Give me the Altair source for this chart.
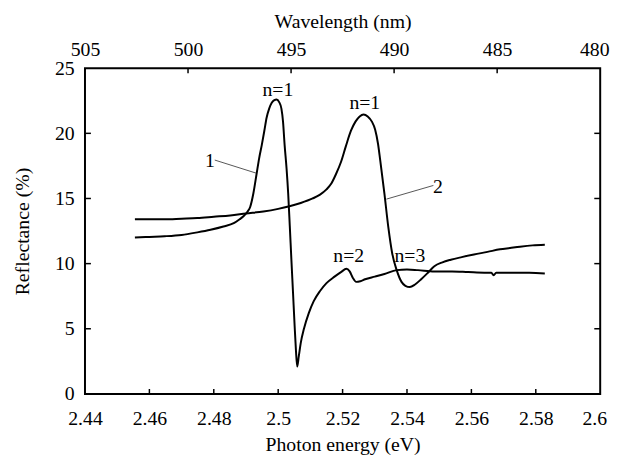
import altair as alt
import pandas as pd

# ---- data ----
energy1 = [2.4555, 2.4600, 2.4647, 2.4700, 2.4749, 2.4790, 2.4830, 2.4862, 2.4880, 2.4893,
           2.4905, 2.4913, 2.4923, 2.4933, 2.4941, 2.4949, 2.4957, 2.4964, 2.4972, 2.4980,
           2.4988, 2.4995, 2.5003, 2.5010, 2.5015, 2.5020, 2.5026, 2.5031, 2.5036, 2.5041,
           2.5046, 2.5051, 2.5055, 2.5059, 2.5064, 2.5070, 2.5080, 2.5095, 2.5110, 2.5130,
           2.5150, 2.5175, 2.5195, 2.5212, 2.5222, 2.5232, 2.5242, 2.5255, 2.5270, 2.5300,
           2.5330, 2.5368, 2.5400, 2.5434, 2.5485, 2.5540, 2.5590, 2.5640, 2.5662, 2.5669,
           2.5677, 2.5720, 2.5780, 2.5828]
refl1 = [12.0, 12.05, 12.1, 12.2, 12.4, 12.6, 12.85, 13.1, 13.4, 13.65,
         14.0, 14.35, 15.4, 16.9, 18.1, 19.1, 20.2, 21.2, 21.9, 22.35,
         22.55, 22.6, 22.4, 21.9, 20.9, 19.1, 17.3, 15.4, 12.9, 10.3,
         7.8, 5.25, 3.4, 2.1, 2.9, 3.9, 5.0, 6.2, 7.1, 7.9,
         8.5, 9.0, 9.35, 9.6, 9.4, 8.9, 8.6, 8.65, 8.8, 9.0,
         9.2, 9.5, 9.55, 9.5, 9.4, 9.4, 9.35, 9.3, 9.3, 9.1,
         9.3, 9.3, 9.3, 9.25]

energy2 = [2.4555, 2.4600, 2.4647, 2.4700, 2.4749, 2.4800, 2.4851, 2.4900, 2.4954, 2.5000,
           2.5035, 2.5070, 2.5107, 2.5130, 2.5150, 2.5165, 2.5180, 2.5195, 2.5210, 2.5226,
           2.5240, 2.5253, 2.5265, 2.5278, 2.5291, 2.5301, 2.5310, 2.5317, 2.5330, 2.5342,
           2.5354, 2.5368, 2.5383, 2.5395, 2.5409, 2.5425, 2.5444, 2.5465, 2.5485, 2.5510,
           2.5536, 2.5570, 2.5608, 2.5650, 2.5689, 2.5720, 2.5751, 2.5790, 2.5828]
refl2 = [13.4, 13.4, 13.4, 13.45, 13.5, 13.6, 13.7, 13.85, 14.0, 14.2,
         14.4, 14.65, 15.0, 15.3, 15.7, 16.15, 16.9, 17.8, 19.0, 20.2,
         20.9, 21.3, 21.45, 21.3, 20.9, 20.3, 19.2, 17.9, 15.35, 12.8,
         10.8, 9.5, 8.6, 8.3, 8.2, 8.4, 8.8, 9.3, 9.8, 10.1,
         10.3, 10.5, 10.7, 10.9, 11.1, 11.2, 11.3, 11.4, 11.45]

energy_ticks = [2.44, 2.46, 2.48, 2.5, 2.52, 2.54, 2.56, 2.58, 2.6]
wl_ticks = [505, 500, 495, 490, 485, 480]
refl_ticks = [0, 5, 10, 15, 20, 25]

label_text = ["n=1", "n=1", "n=2", "n=3", "1", "2"]
label_e = [2.4999, 2.5269, 2.5219, 2.5409, 2.4788, 2.5496]
label_r = [23.3, 22.3, 10.55, 10.55, 17.9, 15.85]

leader_e = [2.4803, 2.5336]
leader_r = [17.95, 14.95]
leader_e2 = [2.4931, 2.5482]
leader_r2 = [16.95, 16.0]

# ---- chart ----
W, H = 522, 330
FONT = "Liberation Serif"
FS = 20

curves = pd.concat([
    pd.DataFrame({"E": energy1, "R": refl1, "series": "1"}),
    pd.DataFrame({"E": energy2, "R": refl2, "series": "2"}),
])
labels = pd.DataFrame({"E": label_e, "R": label_r, "text": label_text})
leaders = pd.DataFrame({"E": leader_e, "R": leader_r, "E2": leader_e2, "R2": leader_r2})

xs = alt.Scale(domain=[2.44, 2.6], nice=False, zero=False)
ys = alt.Scale(domain=[0, 25], nice=False, zero=False)

x_axis = alt.Axis(values=energy_ticks, format=".2~f", title="Photon energy (eV)",
                  labelPadding=15, titlePadding=6, labelFlush=False,
                  labelOffset={"condition": {"test": "datum.value >= 2.59", "value": -6},
                               "value": 0})
y_axis = alt.Axis(values=refl_ticks, title="Reflectance (%)",
                  labelPadding=11, titlePadding=22)

X = alt.X("E:Q", scale=xs, axis=x_axis)
Y = alt.Y("R:Q", scale=ys, axis=y_axis)

lines = alt.Chart(curves).mark_line(
    color="black", strokeWidth=2, interpolate="monotone", strokeJoin="round"
).encode(x=X, y=Y, detail="series:N")

lead = alt.Chart(leaders).mark_rule(color="#555555", strokeWidth=1).encode(
    x=X, y=Y, x2="E2:Q", y2="R2:Q")

texts = alt.Chart(labels).mark_text(
    font=FONT, fontSize=FS, color="black", baseline="middle", align="center"
).encode(x=X, y=Y, text="text:N")

bt = alt.Chart(pd.DataFrame({"E": energy_ticks[1:-1]})).mark_rule(
    color="black", strokeWidth=1.5).encode(x=X, y=alt.value(H), y2=alt.value(H - 5))

lt = alt.Chart(pd.DataFrame({"R": refl_ticks[1:-1]})).mark_rule(
    color="black", strokeWidth=1.5).encode(y=Y, x=alt.value(0), x2=alt.value(6))
rt = alt.Chart(pd.DataFrame({"R": refl_ticks[1:-1]})).mark_rule(
    color="black", strokeWidth=1.5).encode(y=Y, x=alt.value(W), x2=alt.value(W - 6))

main = alt.layer(lines, lead, texts, bt, lt, rt)

top = alt.Chart(pd.DataFrame({"wl": wl_ticks[1:-1]})).mark_rule(
    color="black", strokeWidth=1.5).encode(
    x=alt.X("wl:Q",
            scale=alt.Scale(domain=[480, 505], reverse=True, nice=False, zero=False),
            axis=alt.Axis(orient="top", values=wl_ticks, title="Wavelength (nm)",
                          labelPadding=9, titlePadding=8, labelFlush=False, format="d",
                          labelOffset={"condition": {"test": "datum.value <= 480", "value": -6},
                                       "value": 0})),
    y=alt.value(0), y2=alt.value(5))

chart = alt.layer(main, top).resolve_scale(x="independent").properties(
    width=W, height=H,
    autosize=alt.AutoSizeParams(type="none"),
    padding={"left": 78, "top": 58, "right": 15, "bottom": 66},
).configure_view(
    stroke="black", strokeWidth=2
).configure_axis(
    domain=False, ticks=False, tickSize=0, grid=False,
    labelFont=FONT, labelFontSize=FS, labelColor="black",
    titleFont=FONT, titleFontSize=FS, titleFontWeight="normal", titleColor="black",
)

chart.save("out.html", embed_options={"renderer": "svg", "actions": False})
